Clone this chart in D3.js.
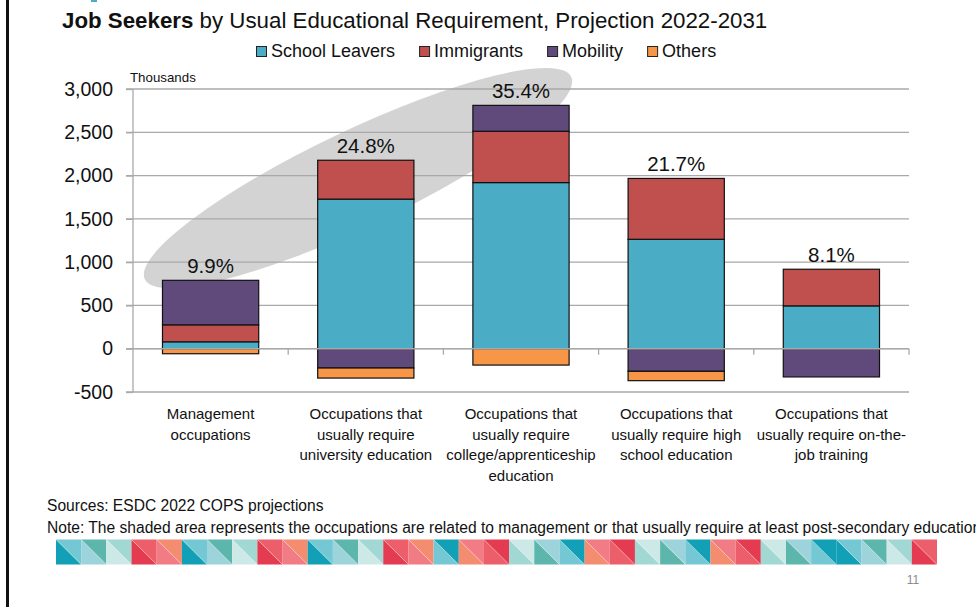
<!DOCTYPE html>
<html>
<head>
<meta charset="utf-8">
<script src="https://cdn.jsdelivr.net/npm/d3@7"></script>
<style>
  html, body { margin: 0; padding: 0; background: #fff; }
  svg { display: block; font-family: "Liberation Sans", Arial, sans-serif; }
</style>
</head>
<body>
<svg id="chart" width="976" height="607"></svg>
<script>
// Job seekers (thousands) by usual educational requirement, 2022-2031
const categories = [
  ["Management", "occupations"],
  ["Occupations that", "usually require", "university education"],
  ["Occupations that", "usually require", "college/apprenticeship", "education"],
  ["Occupations that", "usually require high", "school education"],
  ["Occupations that", "usually require on-the-", "job training"]
];
const seriesNames = ["School Leavers", "Immigrants", "Mobility", "Others"];
const schoolLeavers = [80, 1728, 1919, 1264, 495];
const immigrants    = [196, 449, 593, 703, 423];
const mobility      = [514, -223, 299, -261, -326];
const others        = [-58, -116, -189, -108, 0];
const shareLabels   = ["9.9%", "24.8%", "35.4%", "21.7%", "8.1%"];
const yTicks = [-500, 0, 500, 1000, 1500, 2000, 2500, 3000];
const seriesColors = ["#4bacc6", "#c0504d", "#604a7b", "#f79646"];

// Decorative ribbon of split squares: [lower-left, upper-right]
const ribbon = (() => {
  const A = ["#11a0b6", "#74c8d4"], B = ["#9dd4dc", "#5db6ac"], C = ["#cde9e7", "#a2d8d4"],
        D = ["#e53b51", "#ec5e69"], E = ["#f27c85", "#f48c6f"];
  const r = p => [p[1], p[0]];
  return [A, B, C, D, E, A, B, C, D, E, A, B, C, D, E,
          r(A), r(E), r(D), r(C), r(B), r(A), r(E), r(D), r(C), r(B),
          r(A), r(E), r(D), r(C), r(B), r(A), A, B, C, D];
})();

const svg = d3.select("#chart");

// plot frame
const plot = { left: 133, right: 909, top: 89, bottom: 392 };
const x = d3.scaleBand()
  .domain(d3.range(categories.length))
  .range([plot.left, plot.right])
  .paddingInner(0.38)
  .paddingOuter(0.19);
const xCat = d3.scaleBand().domain(d3.range(categories.length)).range([plot.left, plot.right]);
const y = d3.scaleLinear().domain([-500, 3000]).range([plot.bottom, plot.top]);

// left page rule
svg.append("rect").attr("x", 6).attr("y", 0).attr("width", 3).attr("height", 607).attr("fill", "#111");
svg.append("rect").attr("x", 91).attr("y", 0).attr("width", 6).attr("height", 2).attr("fill", "#4bacc6");

// title
const title = svg.append("text").attr("x", 62).attr("y", 28).attr("font-size", 22.3).attr("fill", "#111");
title.append("tspan").attr("font-weight", "bold").text("Job Seekers");
title.append("tspan").text(" by Usual Educational Requirement, Projection 2022-2031");

// legend
let lx = 256;
seriesNames.forEach((name, i) => {
  svg.append("rect").attr("x", lx + 0.5).attr("y", 46.5).attr("width", 10).attr("height", 10)
    .attr("fill", seriesColors[i]).attr("stroke", "#222").attr("stroke-width", 1);
  const t = svg.append("text").attr("x", lx + 15).attr("y", 57).attr("font-size", 18)
    .attr("fill", "#111").text(name);
  lx += 15 + t.node().getComputedTextLength() + 24;
});

// highlight ellipse behind the chart
svg.append("ellipse")
  .attr("cx", 0).attr("cy", 0).attr("rx", 236).attr("ry", 48)
  .attr("transform", "translate(358,178) rotate(-25.4)")
  .attr("fill", "#d3d3d3");

// gridlines
svg.append("g").selectAll("line").data(yTicks).join("line")
  .attr("x1", plot.left - 7).attr("x2", plot.right)
  .attr("y1", d => y(d)).attr("y2", d => y(d))
  .attr("stroke", "#a9a9a9").attr("stroke-width", 1.3);

// y axis
const yAxis = svg.append("g").attr("transform", `translate(${plot.left},0)`)
  .call(d3.axisLeft(y).tickValues(yTicks).tickSize(7).tickPadding(13)
    .tickFormat(d => d3.format(",")(d).replace("\u2212", "-")));
yAxis.select(".domain").attr("stroke", "#a9a9a9").attr("stroke-width", 1.3).attr("d", `M0,${plot.top}V${plot.bottom}`);
yAxis.selectAll(".tick line").attr("stroke", "#a9a9a9").attr("stroke-width", 1.3);
yAxis.selectAll(".tick text").attr("font-size", 19.5).attr("fill", "#111")
  .attr("font-family", "'Liberation Sans', Arial, sans-serif");

svg.append("text").attr("x", 130).attr("y", 82).attr("font-size", 13.3).attr("fill", "#111").text("Thousands");

// stacked bars (positive and negative parts stacked separately)
const rows = categories.map((c, i) => ({
  i,
  "School Leavers": schoolLeavers[i],
  "Immigrants": immigrants[i],
  "Mobility": mobility[i],
  "Others": others[i]
}));
const stacked = d3.stack().keys(seriesNames).offset(d3.stackOffsetDiverging)(rows);

svg.append("g").selectAll("g").data(stacked).join("g")
  .attr("fill", (d, k) => seriesColors[k])
  .selectAll("rect").data(d => d.filter(s => s[1] !== s[0])).join("rect")
  .attr("x", d => x(d.data.i))
  .attr("width", x.bandwidth())
  .attr("y", d => y(Math.max(d[0], d[1])))
  .attr("height", d => Math.abs(y(d[0]) - y(d[1])))
  .attr("stroke", "#111").attr("stroke-width", 1.2);

// zero axis line with category ticks
svg.append("line").attr("x1", plot.left).attr("x2", plot.right)
  .attr("y1", y(0)).attr("y2", y(0)).attr("stroke", "#a9a9a9").attr("stroke-width", 1.5);
svg.append("g").selectAll("line").data(d3.range(1, categories.length + 1)).join("line")
  .attr("x1", d => plot.left + xCat.step() * d).attr("x2", d => plot.left + xCat.step() * d)
  .attr("y1", y(0)).attr("y2", y(0) + 6)
  .attr("stroke", "#a9a9a9").attr("stroke-width", 1.3);

// share labels above each bar
const tops = rows.map(r => d3.sum(seriesNames, k => Math.max(0, r[k])));
svg.append("g").selectAll("text").data(shareLabels).join("text")
  .attr("x", (d, i) => x(i) + x.bandwidth() / 2)
  .attr("y", (d, i) => y(tops[i]) - 7)
  .attr("text-anchor", "middle").attr("font-size", 20.5).attr("fill", "#111")
  .text(d => d);

// category labels
svg.append("g").selectAll("text").data(categories).join("text")
  .attr("text-anchor", "middle").attr("font-size", 15).attr("fill", "#111")
  .attr("x", (d, i) => xCat(i) + xCat.bandwidth() / 2)
  .attr("y", 419)
  .each(function (lines, i) {
    d3.select(this).selectAll("tspan").data(lines).join("tspan")
      .attr("x", xCat(i) + xCat.bandwidth() / 2)
      .attr("dy", (l, j) => j === 0 ? 0 : 20.5)
      .text(l => l);
  });

// footnotes
svg.append("text").attr("x", 47).attr("y", 511).attr("font-size", 15.6).attr("fill", "#111")
  .text("Sources: ESDC 2022 COPS projections");
svg.append("text").attr("x", 47).attr("y", 533).attr("font-size", 15.6).attr("fill", "#111")
  .text("Note: The shaded area represents the occupations are related to management or that usually require at least post-secondary education");

// ribbon
const rx = d3.scaleBand().domain(d3.range(ribbon.length)).range([56, 937]);
const sq = svg.append("g").selectAll("g").data(ribbon).join("g")
  .attr("transform", (d, i) => `translate(${rx(i)},539.5)`);
const s = rx.bandwidth(), h = 25;
sq.append("path").attr("d", `M0,0L${s},${h}L0,${h}Z`).attr("fill", d => d[0]);
sq.append("path").attr("d", `M0,0L${s},0L${s},${h}Z`).attr("fill", d => d[1]);
sq.append("line").attr("x1", 0).attr("y1", 0).attr("x2", s).attr("y2", h)
  .attr("stroke", "#fff").attr("stroke-opacity", 0.45).attr("stroke-width", 0.7);

// page number
svg.append("text").attr("x", 913).attr("y", 584).attr("text-anchor", "middle")
  .attr("font-size", 12).attr("fill", "#8c8c8c").text("11");
</script>
</body>
</html>
